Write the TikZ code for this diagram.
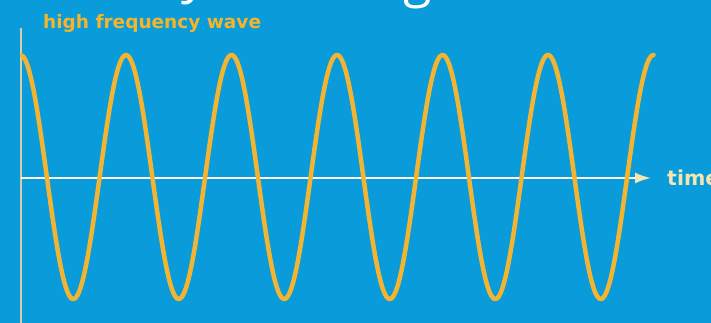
\documentclass[tikz,border=0pt]{standalone}
\usepackage{fontspec}
\setmainfont{DejaVu Sans}
\newfontfamily\opensans{Open Sans}
\usetikzlibrary{arrows.meta}
\definecolor{bgblue}{HTML}{0A9BDB}
\definecolor{wavecol}{HTML}{F2B431}
\definecolor{titlecol}{HTML}{F3B52B}
\definecolor{paleyel}{HTML}{F3E6B0}
\definecolor{axisbeige}{HTML}{D8CCA0}
\tikzset{
  labeltext/.style={inner sep=0pt, font=\bfseries},
  topcut/.style={inner sep=0pt, text=white, font=\opensans\fontsize{52}{60}\selectfont},
  wavepath/.style={draw=wavecol, line width=4.5pt, line join=round, line cap=round},
}
\begin{document}
\begin{tikzpicture}[x=1pt,y=-1pt]
\path[use as bounding box] (0,0) rectangle (711,323);
\clip (0,0) rectangle (711,323);
\fill[bgblue] (0,0) rectangle (711,323);
% cut-off white heading above the picture
\node[topcut, anchor=base west] (cuty) at (181,-7) {y};
\node[topcut, anchor=base west] (cutg) at (403,-3) {g};
% title
\node[labeltext, text=titlecol, font=\bfseries\fontsize{18.5}{22}\selectfont, anchor=base west] (title) at (43,29) {high frequency wave};
% axes
\coordinate (o) at (21,178);
\coordinate (vtop) at (21,28);
\coordinate (vbot) at (21,323);
\coordinate (hend) at (651,178);
\draw[axisbeige, line width=2pt] (vtop) -- (vbot);
\draw[white, line width=2pt, -{Latex[length=16pt,width=11pt,color=paleyel]}] (o) -- (hend);
\node[labeltext, text=paleyel, font=\bfseries\fontsize{20.5}{24}\selectfont, anchor=base west] (time) at (667,185) {time};
% wave
\draw[wavepath] plot[domain=22:653.5, samples=500, smooth] (\x, {177-122*cos((\x-20.5)*3.41232)});
\end{tikzpicture}
\end{document}
